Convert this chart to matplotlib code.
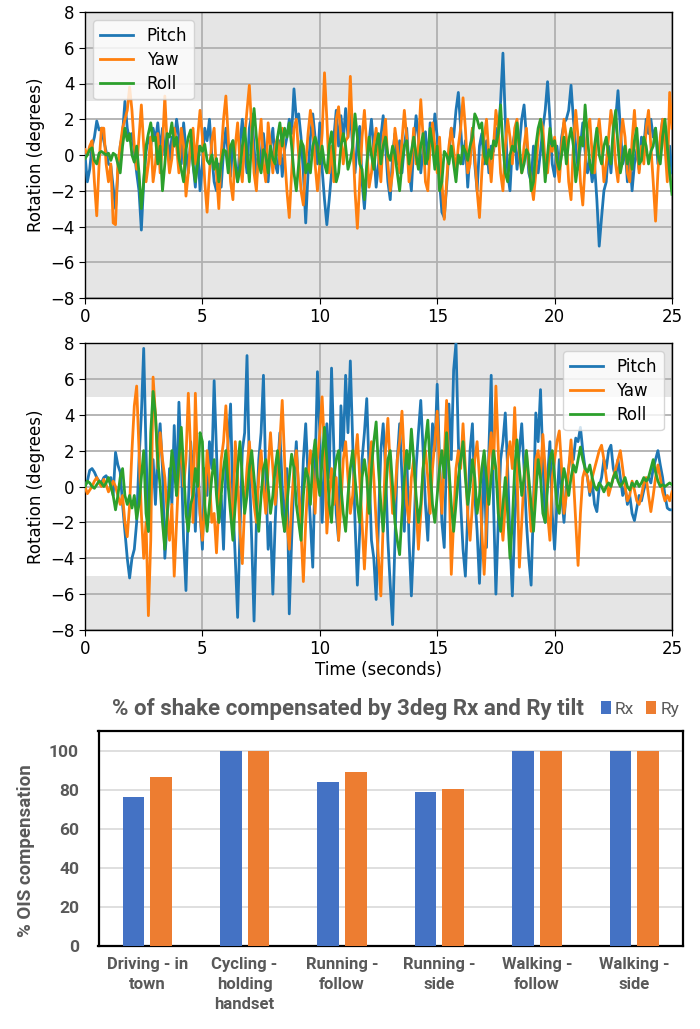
import numpy as np
import matplotlib
matplotlib.use("Agg")
import matplotlib.pyplot as plt

# ---------------- data ----------------
time_step = 0.1  # seconds between samples

pitch_1 = [
    0.0, -1.5, -0.8, 0.5, 1.0, 1.9, 1.4, 1.5, 0.8, 0.2,
    -0.5, -0.6, -1.8, -3.0, -1.0, 0.5, 1.2, 3.0, 1.5, 0.8,
    1.2, 0.2, -1.0, -2.0, -4.2, -1.5, 0.2, 1.0, 0.5, 1.5,
    0.8, 1.8, 0.2, 1.5, 0.0, 1.2, -0.3, 1.0, 0.5, 2.0,
    1.0, -0.5, 1.8, 0.3, -1.0, 0.8, -0.5, -1.8, 0.5, -2.0,
    -0.5, 1.5, 0.8, 2.0, 0.0, -1.5, -2.0, -0.5, -1.8, 0.2,
    1.5, 0.0, -1.2, 0.8, -0.5, -1.5, 0.6, 2.0, 0.2, -1.0,
    1.5, 2.3, 0.5, -1.5, 0.8, -0.8, 1.2, -0.2, -1.5, 0.5,
    1.5, -0.5, -1.0, 0.8, -1.2, 0.3, 1.0, 2.0, 1.2, 3.7,
    2.0, 2.3, 1.0, -1.0, -3.8, -1.0, 1.0, 2.3, 1.0, -0.5,
    1.8, -0.8, -2.5, -3.9, -2.5, -1.0, 1.0, 2.5, 0.5, 2.2,
    0.8, 2.6, 1.0, 2.3, 0.5, -1.0, 0.8, 1.6, -1.5, -3.0,
    -1.0, 0.8, 2.0, 0.2, -1.8, -0.5, 1.0, 2.2, 0.5, -1.5,
    -2.5, 0.0, 1.2, -0.5, 0.8, -1.0, 0.5, 1.5, -0.8, -2.0,
    0.5, 2.2, 1.0, -1.0, 0.3, 1.3, -0.5, 1.8, 0.5, 2.3,
    1.0, -1.5, -3.2, -3.5, -1.8, 0.2, 1.5, 1.0, 2.5, 3.5,
    1.5, -0.5, 0.8, -1.8, 0.2, 1.5, -0.5, -2.0, 0.5, 1.2,
    -0.5, 0.8, -1.0, 0.5, 0.2, 1.5, 0.8, 3.0, 5.7, 2.0,
    -1.0, -2.0, 0.5, 1.2, -0.8, 0.5, 2.0, 2.8, 1.0, -1.0,
    -1.5, 0.5, -0.5, -1.0, 0.2, 1.5, 2.5, 4.1, 2.0, -0.5,
    -1.2, 0.5, -0.8, 1.0, 1.8, 2.0, 2.5, 3.9, 2.0, 0.5,
    -0.8, 0.5, 1.8, 0.2, -1.0, -0.3, -1.5, -0.5, -2.5, -5.1,
    -3.5, -2.0, -1.5, 0.5, -1.0, 1.0, 2.0, 3.6, 1.5, -0.5,
    0.5, -1.5, 0.0, -2.0, -0.5, 0.3, -0.8, 1.0, 0.5, 2.0,
    1.2, 2.0, 1.0, 1.5, -0.5, 0.8, 2.0, 1.2, -0.5, 0.5,
    -1.0,
]

yaw_1 = [
    0.3, 0.0, 0.5, 0.8, -1.5, -3.4, -0.5, 1.5, 1.5, -0.5,
    -1.5, -0.5, -3.8, -3.9, -0.5, 0.5, 1.5, 2.0, 2.5, 3.8,
    2.5, 0.5, -0.8, 1.0, 2.8, 0.5, -1.5, -0.5, 1.0, -1.5,
    -0.5, 1.2, -1.0, 0.5, 3.3, 0.5, -1.0, -0.2, 1.5, 0.5,
    -1.0, 1.5, 0.5, -2.3, -1.0, 0.8, 1.5, -0.5, 1.0, 2.5,
    1.0, -1.5, -3.2, -1.0, 0.8, 1.5, -1.0, -3.0, 0.0, 2.0,
    3.3, 1.0, -1.5, -2.5, 0.5, 1.8, -0.5, -1.5, 1.0, 2.5,
    3.9, 1.5, -1.0, -2.0, 0.5, 2.0, -0.5, -1.5, 1.8, 0.5,
    -1.0, 0.5, 1.0, -0.5, 1.5, 0.0, -2.0, -3.5, -1.0, 1.5,
    2.0, 0.0, -2.0, -2.8, -0.5, 1.2, 2.5, 1.5, -0.5, -2.0,
    -0.5, 1.2, 4.6, 2.0, -1.0, 0.5, -1.5, 2.0, 2.7, 1.0,
    -0.5, 0.8, 1.0, 4.4, 1.0, -2.0, -4.1, -1.5, 1.0, 2.5,
    0.5, -1.8, -1.0, 0.5, 1.5, 0.0, -1.5, 1.0, 2.0, -0.5,
    -2.0, -1.0, 1.5, 0.5, -1.0, 0.8, 2.5, 1.0, -1.5, -0.5,
    1.5, -0.5, 0.5, 3.1, 1.0, -1.5, -2.0, 0.5, 1.8, 0.5,
    -1.0, 1.0, -1.5, -3.6, -1.5, 0.5, 1.5, 0.3, -1.0, 0.5,
    1.5, 3.2, 1.5, -1.0, -0.5, 1.5, 0.0, -2.0, -3.5, -1.0,
    1.0, 2.0, 0.0, -1.5, 0.5, 2.5, 1.5, -1.0, -2.0, 0.5,
    2.0, 1.0, -0.5, 1.5, 2.0, 0.0, -1.0, 0.5, 1.5, -0.5,
    -1.5, -2.5, -1.0, 1.0, 2.0, 1.5, -0.5, -1.0, 0.5, 0.2,
    1.0, -0.5, -1.5, 0.5, 2.0, 1.0, -1.5, -2.5, 0.5, 2.5,
    1.0, -1.5, -2.8, -0.5, 1.5, 2.0, 0.0, -1.0, 1.0, 2.0,
    0.5, -1.5, -0.5, 1.0, 2.5, 1.5, -0.5, -1.5, 0.5, 2.0,
    1.0, -1.0, -1.5, 0.8, 2.5, 0.5, -1.0, 0.5, -0.5, 1.5,
    2.5, 0.5, -1.5, -3.7, -1.0, 1.0, 2.0, 0.5, -1.5, 3.5,
    1.5,
]

roll_1 = [
    -0.2, 0.0, 0.3, 0.4, -0.3, -0.5, 0.1, 0.2, 0.1, 0.0,
    0.1, -0.3, 0.1, 0.0, -0.5, -1.0, 0.5, 1.5, 0.8, 1.2,
    0.0, -0.4, 0.5, -1.0, -3.0, -1.5, 0.5, 1.2, 1.8, 0.8,
    1.0, -0.5, 0.5, -2.0, -0.5, 1.2, 1.0, 1.8, 0.5, 1.0,
    -0.2, -0.8, -1.5, 0.3, 1.0, 1.4, -0.5, -1.5, -0.5, 0.5,
    0.2, 0.6, -0.3, -0.5, 0.0, -0.8, -0.2, -1.5, -0.5, 0.3,
    0.2, -1.0, 0.5, 0.8, -0.5, -1.5, -0.8, 0.5, 1.5, 0.0,
    -1.5, 1.0, 2.6, 1.0, -0.5, -1.0, 0.3, 0.0, -1.0, 0.5,
    -0.2, -0.5, 1.0, 1.8, 0.5, 1.5, 1.0, 1.8, 0.5, -1.0,
    -2.0, -0.5, 0.8, 0.5, -1.0, -0.5, -1.0, 0.5, 1.0, 0.5,
    -0.5, 0.5, -0.5, -1.0, 0.5, 1.3, 0.0, -1.5, -1.0, 0.5,
    1.2, 0.5, -0.8, -0.3, 0.5, 2.3, 1.0, -0.5, -0.8, -2.5,
    -0.5, 1.0, 0.0, -0.8, 0.5, 1.2, -0.5, 0.5, 1.0, 0.0,
    -0.3, 0.5, 0.0, -1.0, -2.0, -0.5, 0.5, 0.8, -0.5, 0.2,
    1.0, 0.0, -0.8, 0.5, 1.2, -0.5, -0.2, 1.5, 0.5, -0.8,
    0.5, -2.0, -1.5, 0.2, 0.0, -0.5, 0.5, -0.5, -1.5, 0.0,
    -0.5, 0.5, 0.2, -0.3, 0.5, 1.0, 2.3, 2.0, 1.5, 1.8,
    0.0, -0.5, 0.3, -0.2, 0.8, 0.5, 1.2, 2.8, 0.5, -1.0,
    -1.5, 0.0, 0.5, 0.2, 1.8, 0.5, -1.0, -0.5, 0.3, 0.0,
    -2.0, -1.5, 0.5, 1.5, 2.0, 0.5, -1.5, 0.0, 1.5, 0.5,
    0.8, -0.3, -0.8, 0.0, 1.0, -0.5, 0.8, 1.5, 0.5, -1.5,
    -0.5, 1.0, 0.5, 2.8, 1.0, -0.5, -1.0, 0.5, 1.5, 0.0,
    -0.5, 0.5, 1.0, 0.0, -0.5, 1.5, 2.5, 0.5, -1.0, -0.3,
    0.5, -0.5, 0.3, -0.8, 0.8, 1.5, -0.5, -0.3, 1.0, 0.5,
    -0.5, 0.2, 0.5, 1.5, 0.0, -0.5, 1.0, 2.0, 0.5, -1.0,
    -2.2,
]

pitch_2 = [
    0.0, 0.3, 0.9, 1.0, 0.8, 0.5, 0.3, 0.2, 0.5, 0.6,
    0.3, 0.5, -0.5, 1.9, 1.2, 0.8, -1.0, -2.5, -4.0, -5.1,
    -4.0, -3.5, -2.0, 1.5, 4.0, 7.7, 2.0, -2.5, -0.5, 1.5,
    -1.0, 2.0, 3.5, 1.0, -4.0, -2.0, 1.0, -1.0, 3.4, -0.5,
    4.7, 1.5, -3.0, -5.8, -1.0, 2.5, 0.5, -2.5, 1.5, -1.5,
    -3.5, 1.0, -0.5, 2.5, 1.0, 5.9, 2.0, -2.0, -0.5, -3.5,
    1.0, 2.5, 4.6, -1.0, -4.0, -7.3, -2.5, 2.0, 3.0, 7.3,
    1.0, -3.0, -7.5, -2.0, 1.5, 3.0, 6.2, 0.5, -3.5, -2.0,
    -6.0, -2.0, 1.0, 3.0, 0.0, -2.5, 1.0, -7.1, -3.0, 0.5,
    2.5, -0.5, -2.0, 1.5, 3.5, 0.5, -2.0, -4.5, 1.0, 6.4,
    3.0, -2.0, 1.0, 3.5, 0.5, 6.6, 2.0, -1.5, -3.0, 4.5,
    2.0, 6.2, 3.0, 7.0, 2.5, -2.0, -5.5, -2.5, 1.5, 3.0,
    4.9, 1.0, -3.0, -4.0, -6.3, -2.0, 2.0, 3.5, 1.0, -3.0,
    -5.5, -7.7, -3.0, 1.5, 3.5, 0.5, -2.5, 2.0, -3.0, -6.1,
    -3.0, 1.0, 3.0, 4.8, 2.0, -1.0, -3.0, 0.5, 3.5, 2.0,
    5.7, 1.5, -2.0, -3.4, 2.0, 4.6, 1.5, 6.5, 8.0, 2.5,
    -1.0, -3.5, -5.0, -1.5, 2.0, 3.5, -0.5, -2.5, -5.4, -2.0,
    1.5, -3.4, 2.0, 6.2, -1.0, -6.0, -2.0, 1.5, 2.5, 4.1,
    1.0, -3.0, -6.1, -2.0, 0.5, 2.0, 3.5, 1.0, -2.0, -4.0,
    -5.5, -1.0, 4.1, 2.5, 5.4, 1.5, -2.0, 0.5, 2.5, -1.5,
    -3.5, -1.0, 1.5, -0.5, -2.0, 0.0, 1.0, 2.0, 1.5, 2.7,
    2.5, 3.3, 2.0, 1.0, 0.5, -0.5, 0.3, -1.0, -1.4, 0.0,
    0.5, 1.5, 1.0, 2.0, 2.3, 1.0, 0.5, 1.5, 0.5, -0.5,
    0.0, -1.0, -0.5, -1.5, -1.9, -1.2, -0.5, -0.8, -0.2, 0.3,
    0.5, 0.2, 1.0, 1.5, 2.0, 1.2, 0.5, -0.5, -1.2, -1.3,
    -1.3,
]

yaw_2 = [
    0.0, -0.4, -0.2, 0.0, 0.3, 0.5, 0.2, 0.0, 0.4, 0.1,
    -0.3, 0.0, 0.3, 0.0, -0.5, -1.0, -0.5, -2.0, -2.8, -1.0,
    2.0, 4.5, 5.6, 2.0, -1.5, -4.0, -2.0, -7.2, -3.0, 6.1,
    4.0, 1.0, 3.0, 1.5, 0.5, -1.5, -3.0, -1.0, -5.0, -2.0,
    1.0, 2.5, 0.0, 1.5, 5.2, 2.0, -2.0, 5.2, 1.0, -1.5,
    -3.0, -1.0, 2.0, 0.5, -2.0, -1.5, -3.7, -1.0, 1.5, 2.5,
    4.5, 2.0, -1.0, -2.0, 2.5, 0.5, -2.5, -4.3, -1.0, 1.0,
    2.5, 0.5, -1.0, -2.0, 0.5, 2.0, 0.0, -1.5, 1.0, 3.0,
    1.0, -1.0, 0.5, 2.5, 4.8, 1.5, -2.0, -3.5, -1.0, 1.0,
    2.0, 0.0, -2.5, -5.3, -2.0, 0.5, 2.0, 1.0, -1.5, 1.5,
    3.0, 5.0, 2.0, -2.6, -0.5, 1.0, -1.0, 0.5, -3.0, -1.0,
    1.5, 2.5, 0.5, -1.5, -0.5, 1.5, 2.9, 0.5, -2.0, -4.6,
    -2.0, 1.0, 2.5, 0.5, -2.0, -4.0, -6.1, -2.0, 2.0, 3.8,
    1.0, -1.5, -0.5, 1.5, 2.5, 4.2, 1.5, -1.0, -2.0, 0.5,
    1.5, -1.0, -3.5, -1.5, 1.0, 2.0, 0.5, -1.5, 1.0, 2.5,
    4.2, 1.0, -1.5, 1.5, 4.8, 1.0, -4.9, -2.0, 1.0, 2.0,
    1.0, 3.5, 1.0, -1.5, -3.0, -1.0, 1.5, 2.5, 0.5, -2.5,
    -4.9, -2.0, 1.5, 3.0, 1.0, 5.6, 2.0, -1.5, -3.0, -1.0,
    1.5, 2.5, 1.0, 4.4, 1.0, -4.5, -2.0, 0.5, 2.0, -0.5,
    -2.5, -1.0, 1.5, 2.0, 0.5, 2.9, 1.0, -1.5, -3.0, 0.5,
    1.5, 2.5, 3.1, 1.0, -1.5, -0.5, 1.0, 2.6, 0.5, -2.0,
    -4.4, -1.5, 0.5, 1.0, 0.5, -0.3, 0.5, 1.0, 1.5, 2.0,
    2.3, 1.5, 0.5, -0.5, 0.0, 0.5, 1.0, 1.5, 2.0, 1.0,
    0.0, -0.8, -0.5, 0.3, -0.2, -0.8, -1.0, -0.5, 0.2, 0.5,
    -0.5, -1.4, -0.5, 0.5, 1.2, 0.5, -0.3, -0.8, -0.5, -0.8,
    -0.3,
]

roll_2 = [
    0.0, 0.3, 0.2, 0.0, -0.1, 0.1, 0.3, 0.2, 0.0, 0.2,
    0.5, 0.0, -0.5, -1.3, -0.5, 0.5, 1.0, -0.5, -1.0, -0.5,
    -1.2, -0.5, -1.8, -1.0, 0.5, 2.0, -1.5, -2.5, 3.0, 5.3,
    4.0, 1.5, 0.0, -2.0, -3.5, -1.5, 0.0, 2.0, 1.0, -0.5,
    1.5, 3.3, 1.0, -1.5, -2.5, -1.0, -0.5, 1.0, 0.0, 3.0,
    2.5, -1.0, -2.5, -1.0, 0.5, 1.5, -0.5, -2.0, -0.5, 1.0,
    2.0, 0.0, -1.5, -3.0, -1.0, 1.0, 2.5, 0.5, -1.5, -0.5,
    1.0, 2.0, 0.5, -1.0, -2.5, -0.5, 1.0, 1.5, 0.0, -1.5,
    -0.5, 1.0, 2.0, 0.5, -1.5, -2.5, -1.0, 0.5, 1.8, 1.0,
    -1.0, -2.0, -3.0, -0.5, 1.0, 0.5, -1.0, 1.5, 2.6, 0.5,
    -0.5, 1.5, 3.3, 1.5, -1.0, -2.0, 0.5, 1.5, 2.0, 0.0,
    -1.5, -2.5, -0.5, 1.0, 2.0, 0.5, -1.0, -2.0, 0.5, 1.5,
    0.5, -1.5, 1.0, 2.5, 3.6, 1.0, -1.0, -2.5, -0.5, 1.5,
    2.0, 0.0, -2.0, -3.0, -3.8, -1.5, 0.5, 2.0, 1.0, 3.2,
    1.5, -0.5, -2.0, -1.0, 1.0, 2.5, 3.7, 1.0, -1.0, -2.0,
    -0.5, 1.0, 2.0, 0.5, 3.0, 1.0, -1.0, -2.5, -1.0, 0.5,
    1.5, 2.5, 0.5, -1.0, 0.0, 1.5, 0.5, -1.5, -0.5, 1.0,
    2.0, 0.5, -1.0, 0.5, 2.0, 1.0, -1.5, -2.5, -1.0, 0.5,
    -1.5, -4.0, -2.0, 1.0, 2.6, 1.0, -0.5, 0.5, 2.0, 0.5,
    -1.0, -2.5, -0.5, 1.5, 0.5, -1.5, -2.0, 0.0, 1.5, 2.0,
    0.5, -1.0, -1.5, 0.0, 1.0, 0.3, -0.5, 0.5, 1.2, 0.8,
    1.5, 2.2, 1.5, 1.0, 0.8, 1.2, 0.5, 0.0, -0.2, 0.2,
    0.0, -0.3, 0.0, 0.2, 0.0, 0.5, 0.8, 0.3, 0.0, 0.2,
    0.5, 0.0, -0.2, 0.2, 0.0, 0.3, 0.0, 0.2, 0.5, 0.3,
    0.5, 1.0, 1.5, 0.8, 0.3, 0.0, 0.1, 0.0, 0.1, 0.2,
    0.1,
]

bands_top = 3      # white band half-width, top chart
bands_mid = 5      # white band half-width, middle chart

categories = ["Driving - in\ntown", "Cycling -\nholding\nhandset", "Running -\nfollow",
              "Running -\nside", "Walking -\nfollow", "Walking -\nside"]
rx_values = [76, 100, 84, 79, 100, 100]
ry_values = [86.5, 100, 89, 80.5, 100, 100]

# ---------------- figure ----------------
fig = plt.figure(figsize=(7.0, 10.29), dpi=100)
plt.rcParams['font.family'] = ['DejaVu Sans']

BAND = '#e5e5e5'
GRID = '#b0b0b0'


def ts_axes(rect, p, y, r, half, legend_loc, xlabel=None):
    ax = fig.add_axes(rect)
    t = np.arange(len(p)) * time_step
    ax.axhspan(half, 8, color=BAND, zorder=0, lw=0)
    ax.axhspan(-8, -half, color=BAND, zorder=0, lw=0)
    ax.plot(t, p, color='#1f77b4', lw=2.0, label='Pitch', zorder=3)
    ax.plot(t, y, color='#ff7f0e', lw=2.0, label='Yaw', zorder=3)
    ax.plot(t, r, color='#2ca02c', lw=2.0, label='Roll', zorder=3)
    ax.set_xlim(0, 25)
    ax.set_ylim(-8, 8)
    ax.set_xticks([0, 5, 10, 15, 20, 25])
    ax.set_yticks(range(-8, 9, 2))
    ax.grid(True, color=GRID, lw=1.3, zorder=1)
    ax.set_axisbelow(True)
    ax.tick_params(labelsize=12, length=4)
    ax.set_ylabel('Rotation (degrees)', fontsize=12)
    if xlabel:
        ax.set_xlabel(xlabel, fontsize=12, labelpad=2)
    ax.legend(loc=legend_loc, fontsize=12, framealpha=0.8, handlelength=2.0,
              labelspacing=0.35)
    for s in ax.spines.values():
        s.set_linewidth(1.0)
    return ax


ts_axes([85 / 700, 1 - 298 / 1029, 587 / 700, 286 / 1029],
        pitch_1, yaw_1, roll_1, bands_top, 'upper left')
ts_axes([85 / 700, 1 - 630 / 1029, 587 / 700, 287 / 1029],
        pitch_2, yaw_2, roll_2, bands_mid, 'upper right', xlabel='Time (seconds)')

# ---------------- bar chart ----------------
GRAY = '#595959'
axb = fig.add_axes([98.5 / 700, 1 - 946 / 1029, 584.5 / 700, 215 / 1029])
x = np.arange(len(categories))
w = 0.222
off = 0.142
axb.bar(x - off, rx_values, w, color='#4472C4', label='Rx', zorder=3)
axb.bar(x + off, ry_values, w, color='#ED7D31', label='Ry', zorder=3)
axb.set_xlim(-0.5, len(categories) - 0.5)
axb.set_ylim(0, 110)
axb.set_yticks([0, 20, 40, 60, 80, 100])
axb.yaxis.grid(True, color='#d9d9d9', lw=1.2, zorder=0)
axb.set_axisbelow(True)
axb.tick_params(axis='both', length=0, labelcolor=GRAY)
axb.tick_params(axis='y', pad=14)
axb.tick_params(axis='x', pad=8)
axb.set_xticks(x)
axb.set_xticklabels(categories, fontsize=12, fontfamily='Roboto',
                    fontweight='bold', color=GRAY, linespacing=1.4)
for lab in axb.get_yticklabels():
    lab.set_fontfamily('Roboto')
    lab.set_fontsize(12.5)
    lab.set_fontweight('bold')
for s in axb.spines.values():
    s.set_color('black')
    s.set_linewidth(1.6)
axb.set_ylabel('% OIS compensation', fontsize=13.5, fontfamily='Roboto',
               fontweight='bold', color=GRAY, labelpad=10)
axb.yaxis.set_label_coords(35 / 700, 1 - 851 / 1029, transform=fig.transFigure)
fig.text(112 / 700, 1 - 709 / 1029, '% of shake compensated by 3deg Rx and Ry tilt',
         ha='left', va='center', fontsize=16, fontfamily='Roboto',
         fontweight='bold', color=GRAY)
leg = axb.legend(loc='center left', bbox_to_anchor=(601 / 700, 1 - 709 / 1029),
                 bbox_transform=fig.transFigure, ncol=2, frameon=False,
                 prop={'family': 'Roboto', 'size': 12.5},
                 handlelength=0.55, handleheight=0.75, handletextpad=0.25,
                 columnspacing=0.7, borderpad=0, borderaxespad=0)
for txt in leg.get_texts():
    txt.set_color(GRAY)

fig.savefig('out.png', dpi=100)
